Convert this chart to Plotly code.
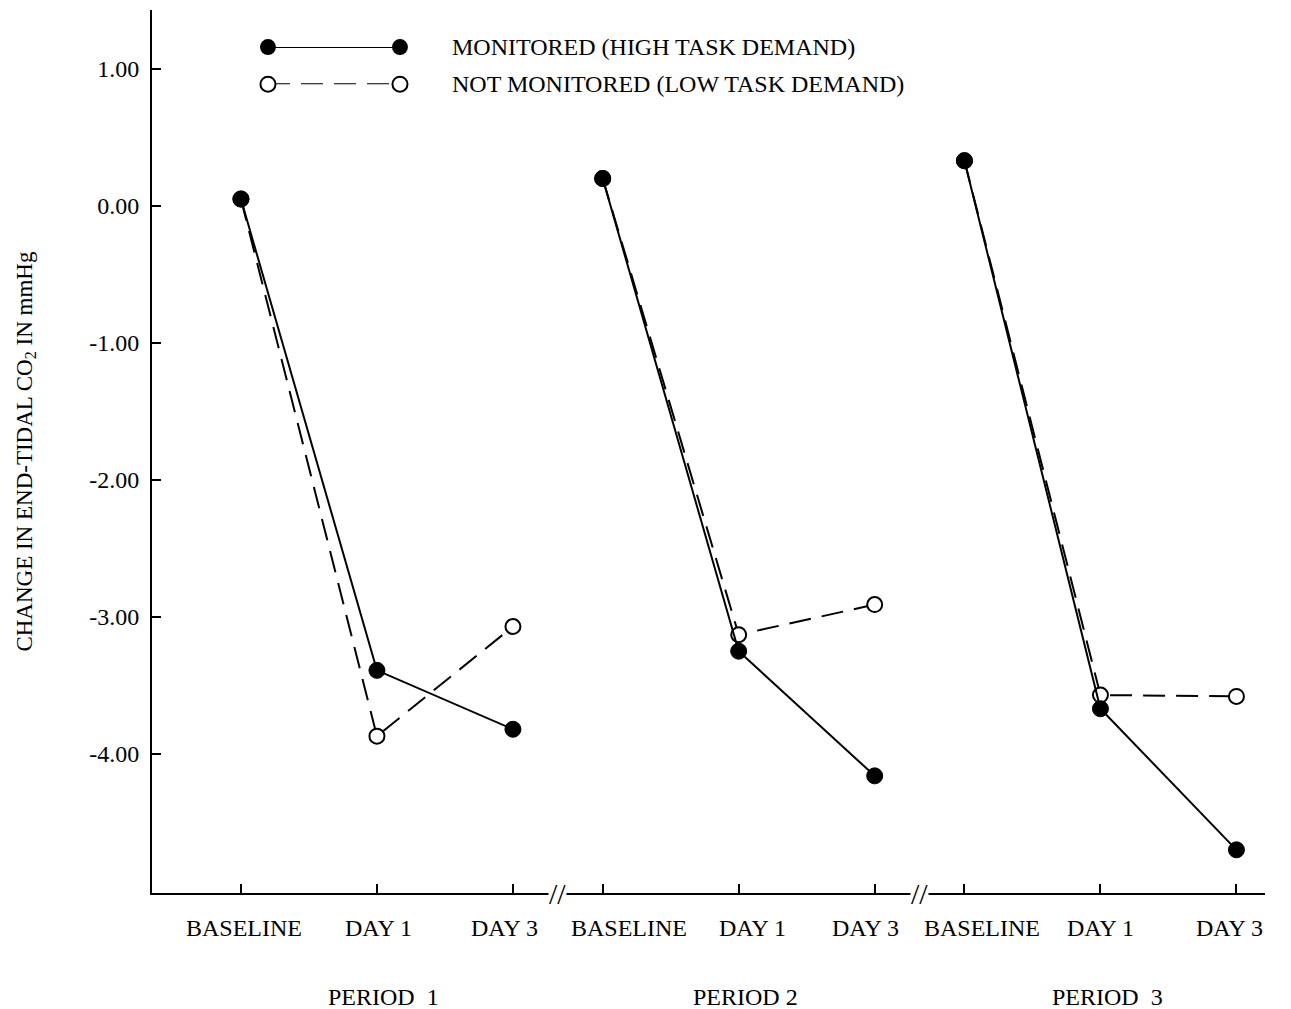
import plotly.graph_objects as go

# ---- data ----
periods = ["PERIOD  1", "PERIOD 2", "PERIOD  3"]
days = ["BASELINE", "DAY 1", "DAY 3"]
monitored = [0.05, -3.39, -3.82, 0.20, -3.25, -4.16, 0.33, -3.67, -4.70]
not_monitored = [0.05, -3.87, -3.07, 0.20, -3.13, -2.91, 0.33, -3.57, -3.58]
y_ticks = [1.0, 0.0, -1.0, -2.0, -3.0, -4.0]
legend_names = ["MONITORED (HIGH TASK DEMAND)", "NOT MONITORED (LOW TASK DEMAND)"]

# ---- layout helpers ----
period_step = 2.66
xs = [p * period_step + i for p in range(len(periods)) for i in range(len(days))]
tick_text = [d for _ in periods for d in days]
label_shift_px = [3, 2, -8, 26, 14, -9, 18, 0, -7]   # small horizontal nudges of tick labels
FONT = "Liberation Serif"
FS = 24

fig = go.Figure()

for p in range(len(periods)):
    sl = slice(p * 3, p * 3 + 3)
    fig.add_trace(go.Scatter(
        x=xs[sl], y=not_monitored[sl], mode="lines+markers",
        line=dict(color="black", width=2, dash="22px,11px"),
        marker=dict(symbol="circle", size=15, color="white", line=dict(color="black", width=2)),
        showlegend=False, cliponaxis=False))
    fig.add_trace(go.Scatter(
        x=xs[sl], y=monitored[sl], mode="lines+markers",
        line=dict(color="black", width=2),
        marker=dict(symbol="circle", size=16, color="black", line=dict(color="black", width=1)),
        showlegend=False, cliponaxis=False))

# custom legend on its own small axes
fig.add_trace(go.Scatter(x=[0, 1], y=[1, 1], xaxis="x2", yaxis="y2", mode="lines+markers",
                         line=dict(color="black", width=2),
                         marker=dict(size=16, color="black"), showlegend=False, cliponaxis=False))
fig.add_trace(go.Scatter(x=[0, 1], y=[0, 0], xaxis="x2", yaxis="y2", mode="lines+markers",
                         line=dict(color="black", width=2, dash="22px,11px"),
                         marker=dict(size=15, color="white", line=dict(color="black", width=2)),
                         showlegend=False, cliponaxis=False))

annotations = []
for i, name in enumerate(legend_names):
    annotations.append(dict(x=0.268, y=0.958 - i * 0.042, xref="paper", yref="paper",
                            text=name, showarrow=False, xanchor="left", yanchor="middle",
                            font=dict(family=FONT, size=FS, color="black")))
# x tick labels (placed on the x axis scale, slightly nudged like the original)
for k, (xv, txt) in enumerate(zip(xs, tick_text)):
    annotations.append(dict(x=xv, y=-0.0396, xref="x", yref="paper", xshift=label_shift_px[k],
                            text=txt, showarrow=False, xanchor="center", yanchor="middle",
                            font=dict(family=FONT, size=FS, color="black")))
for p, name in enumerate(periods):
    annotations.append(dict(x=xs[p * 3 + 1] + 0.05, y=-0.118, xref="x", yref="paper",
                            text=name, showarrow=False, xanchor="center", yanchor="middle",
                            font=dict(family=FONT, size=FS, color="black")))
for p in range(len(periods) - 1):
    annotations.append(dict(x=(xs[p * 3 + 2] + xs[p * 3 + 3]) / 2, y=0, xref="x", yref="paper",
                            text="//", showarrow=False, xanchor="center", yanchor="middle",
                            bgcolor="white", borderpad=0,
                            font=dict(family=FONT, size=30, color="black")))
annotations.append(dict(x=-0.114, y=0.50, xref="paper", yref="paper",
                        text="CHANGE IN END-TIDAL CO<sub>2</sub> IN mmHg", textangle=-90,
                        showarrow=False, xanchor="center", yanchor="middle",
                        font=dict(family=FONT, size=23, color="black")))

# the page adds an 8px body margin, so the figure is sized/offset to compensate
fig.update_layout(
    width=1283, height=1001,
    margin=dict(l=144, r=26, t=2, b=116),
    plot_bgcolor="white", paper_bgcolor="white",
    font=dict(family=FONT, size=FS, color="black"),
    xaxis=dict(range=[-0.654, 7.53], showline=True, linecolor="black", linewidth=2,
               tickvals=xs, showticklabels=False, ticks="inside", ticklen=9,
               tickcolor="black", tickwidth=1.5, showgrid=False, zeroline=False),
    yaxis=dict(range=[-5.015, 1.43], showline=True, linecolor="black", linewidth=2,
               tickvals=y_ticks, ticktext=[f"{v:.2f}".replace("\u2212", "-") for v in y_ticks],
               ticks="inside", ticklen=9, tickcolor="black", tickwidth=1.5,
               showgrid=False, zeroline=False, ticklabelstandoff=6,
               tickfont=dict(family=FONT, size=FS)),
    xaxis2=dict(domain=[0.1042, 0.2228], range=[0, 1], visible=False, anchor="y2"),
    yaxis2=dict(domain=[0.916, 0.958], range=[0, 1], visible=False, anchor="x2"),
    annotations=annotations,
)

fig.write_html("out.html")
